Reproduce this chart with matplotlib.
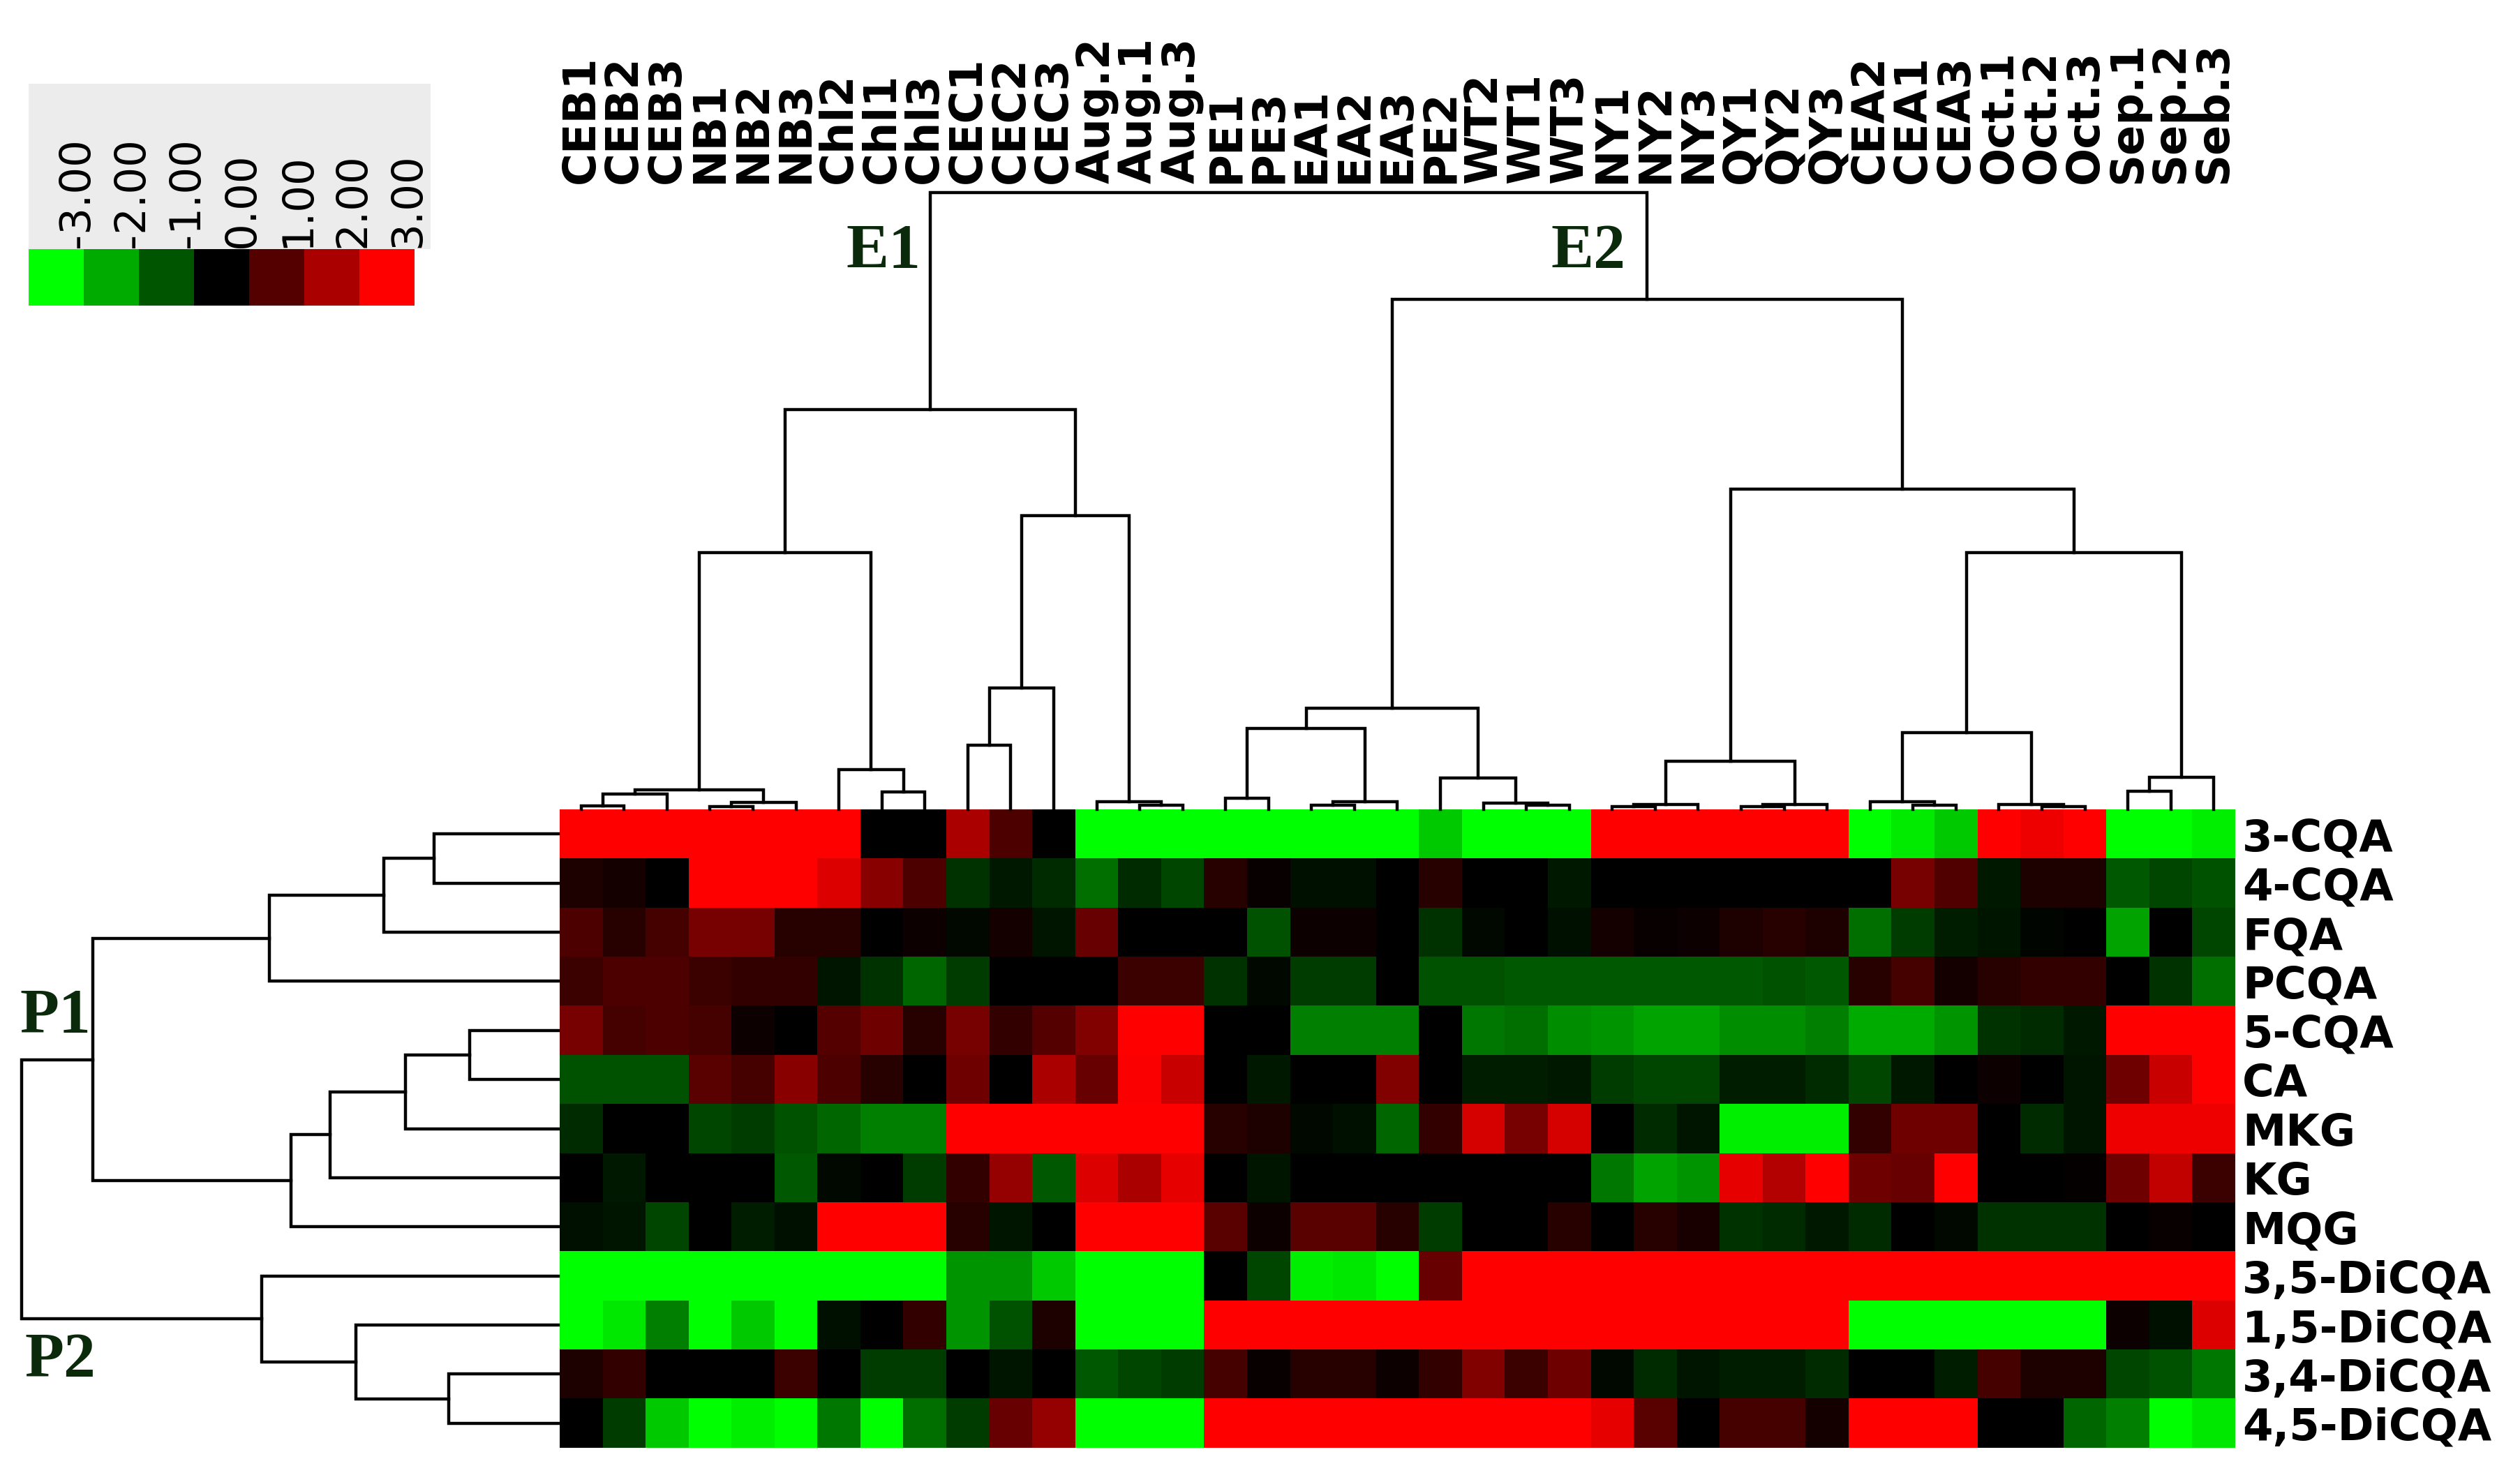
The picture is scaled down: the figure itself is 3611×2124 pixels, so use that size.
import numpy as np
import matplotlib as mpl
mpl.use("Agg")
import matplotlib.pyplot as plt
from matplotlib.colors import LinearSegmentedColormap
from matplotlib.patches import Rectangle

##########################################
# figure is built in pixel units of the original picture
W, H = 3612, 2124
DPI = 100
mpl.rcParams.update({'font.family': 'DejaVu Sans'})
##########################################

samples = ['CEB1', 'CEB2', 'CEB3', 'NB1', 'NB2', 'NB3', 'Chl2', 'Chl1', 'Chl3',
           'CEC1', 'CEC2', 'CEC3', 'Aug.2', 'Aug.1', 'Aug.3', 'PE1', 'PE3', 'EA1',
           'EA2', 'EA3', 'PE2', 'WT2', 'WT1', 'WT3', 'NY1', 'NY2', 'NY3', 'QY1',
           'QY2', 'QY3', 'CEA2', 'CEA1', 'CEA3', 'Oct.1', 'Oct.2', 'Oct.3',
           'Sep.1', 'Sep.2', 'Seb.3']

compounds = ['3-CQA', '4-CQA', 'FQA', 'PCQA', '5-CQA', 'CA', 'MKG', 'KG', 'MQG',
             '3,5-DiCQA', '1,5-DiCQA', '3,4-DiCQA', '4,5-DiCQA']

# standardised values (-3 .. 3), one line per compound, columns in sample order
expr = [
    [3, 3, 3, 3, 3, 3, 3, 0, 0, 2.0, 0.9, 0, -3, -3, -3, -3, -3, -3, -3, -3, -2.35, -3, -3, -3, 3, 3, 3, 3, 3, 3, -3, -2.75, -2.35, 3, 2.8, 3, -3, -3, -2.8],
    [0.35, 0.25, 0, 3, 3, 3, 2.6, 1.6, 0.9, -0.6, -0.3, -0.5, -1.3, -0.5, -0.8, 0.45, 0.1, -0.2, -0.2, 0, 0.45, 0, 0, -0.3, 0, 0, 0, 0, 0, 0, 0, 1.4, 0.95, -0.3, 0.35, 0.35, -1.05, -0.8, -0.95],
    [0.9, 0.45, 0.8, 1.4, 1.4, 0.45, 0.45, 0, 0.15, -0.1, 0.25, -0.25, 1.2, 0, 0, 0, -0.95, 0.15, 0.15, 0, -0.6, -0.1, 0, -0.2, 0.25, 0.1, 0.15, 0.35, 0.45, 0.35, -1.3, -0.7, -0.35, -0.25, -0.05, 0, -1.9, 0, -0.8],
    [0.7, 0.9, 0.9, 0.7, 0.6, 0.6, -0.25, -0.6, -1.2, -0.7, 0, 0, 0, 0.7, 0.7, -0.6, -0.1, -0.7, -0.7, 0, -0.95, -0.95, -1.05, -1.05, -1.05, -1.05, -1.05, -1.05, -0.95, -1.05, 0.45, 0.8, 0.25, 0.45, 0.6, 0.6, 0, -0.6, -1.3],
    [1.4, 0.8, 0.9, 0.8, 0.15, 0, 1.0, 1.3, 0.45, 1.4, 0.6, 1.0, 1.5, 3, 3, 0, 0, -1.5, -1.5, -1.5, 0, -1.4, -1.3, -1.65, -1.75, -1.9, -1.9, -1.65, -1.65, -1.5, -2.0, -2.0, -1.75, -0.6, -0.5, -0.3, 3, 3, 3],
    [-0.95, -0.95, -0.95, 1.05, 0.8, 1.6, 0.9, 0.45, 0, 1.3, 0, 2.0, 1.2, 2.95, 2.35, 0, -0.3, 0, 0, 1.5, 0, -0.35, -0.35, -0.3, -0.7, -0.8, -0.8, -0.35, -0.35, -0.5, -0.8, -0.3, 0, 0.15, 0, -0.25, 1.3, 2.35, 3],
    [-0.5, 0, 0, -0.8, -0.7, -0.95, -1.2, -1.5, -1.5, 3, 3, 3, 3, 3, 3, 0.45, 0.35, -0.1, -0.2, -1.2, 0.6, 2.5, 1.4, 2.5, 0, -0.5, -0.25, -2.8, -2.8, -2.8, 0.6, 1.3, 1.3, 0, -0.5, -0.25, 2.8, 2.8, 2.8],
    [0, -0.3, 0, 0, 0, -1.05, -0.1, 0, -0.7, 0.6, 1.75, -1.05, 2.6, 2.0, 2.7, 0, -0.25, 0, 0, 0, 0, 0, 0, 0, -1.4, -1.9, -1.75, 2.7, 2.1, 3, 1.3, 1.2, 3, 0, 0, 0.05, 1.3, 2.25, 0.7],
    [-0.2, -0.25, -0.8, 0, -0.35, -0.2, 3, 3, 3, 0.45, -0.25, 0, 3, 3, 3, 1.05, 0.15, 1.05, 1.05, 0.45, -0.7, 0, 0, 0.45, 0, 0.45, 0.3, -0.6, -0.5, -0.3, -0.5, 0, -0.1, -0.6, -0.6, -0.6, 0, 0.1, 0],
    [-3, -3, -3, -3, -3, -3, -3, -3, -3, -1.75, -1.75, -2.35, -3, -3, -3, 0, -0.8, -2.8, -2.7, -3, 1.2, 3, 3, 3, 3, 3, 3, 3, 3, 3, 3, 3, 3, 3, 3, 3, 3, 3, 3],
    [-3, -2.7, -1.5, -3, -2.35, -3, -0.2, 0, 0.6, -1.75, -0.95, 0.35, -3, -3, -3, 3, 3, 3, 3, 3, 3, 3, 3, 3, 3, 3, 3, 3, 3, 3, -3, -3, -3, -3, -3, -3, 0.15, -0.2, 2.6],
    [0.35, 0.6, 0, 0, 0, 0.7, 0, -0.7, -0.7, 0, -0.25, 0, -1.05, -0.8, -0.7, 0.8, 0.1, 0.45, 0.45, 0.15, 0.6, 1.5, 0.7, 1.3, -0.1, -0.5, -0.25, -0.35, -0.35, -0.5, 0, 0, -0.35, 0.8, 0.35, 0.35, -0.8, -0.95, -1.4],
    [0, -0.7, -2.35, -3, -2.8, -3, -1.4, -3, -1.3, -0.7, 1.2, 1.75, -3, -3, -3, 3, 3, 3, 3, 3, 3, 3, 3, 3, 2.7, 1.05, 0, 0.8, 0.8, 0.25, 3, 3, 3, 0, 0, -1.2, -1.5, -3, -2.7],
]

# linkage of the samples: (child a, child b, height); ids >= 39 are earlier merges
col_merges = [
    (0, 1, 7), (39, 2, 30), (3, 4, 6), (41, 5, 14), (40, 42, 37),
    (7, 8, 33), (6, 44, 77), (43, 45, 493), (9, 10, 123), (47, 11, 233),
    (13, 14, 8), (12, 49, 15), (48, 50, 565), (46, 51, 768),
    (15, 16, 22), (17, 18, 8), (54, 19, 15), (53, 55, 155),
    (22, 23, 8), (21, 57, 12), (20, 58, 60), (56, 59, 195),
    (24, 25, 6), (61, 26, 10), (27, 28, 6), (63, 29, 10), (62, 64, 93),
    (31, 32, 8), (30, 66, 15), (34, 35, 6), (33, 68, 9), (67, 69, 148),
    (36, 37, 35), (71, 38, 62), (70, 72, 493), (65, 73, 615),
    (60, 74, 980), (52, 75, 1185),
]

# linkage of the compounds, ids >= 13 are earlier merges
row_merges = [
    (0, 1, 340), (13, 2, 478), (14, 3, 792),
    (4, 5, 242), (16, 6, 418), (17, 7, 625), (18, 8, 733),
    (15, 19, 1275),
    (11, 12, 300), (10, 21, 555), (9, 22, 812),
    (20, 23, 1470),
]

legend_values = [-3, -2, -1, 0, 1, 2, 3]
legend_labels = ['-3.00', '-2.00', '-1.00', '0.00', '1.00', '2.00', '3.00']

group_labels = ['E1', 'E2', 'P1', 'P2']
#############################

cmap = LinearSegmentedColormap.from_list('gkr', [(0, 1, 0), (0, 0, 0), (1, 0, 0)])
label_green = '#0b2a0b'


def rect(x0, y0, x1, y1):
    # pixel box (top-left origin) -> figure fraction
    return [x0 / W, 1 - y1 / H, (x1 - x0) / W, (y1 - y0) / H]


def draw_tree(ax, merges, n, top=True):
    pos = {i: (float(i), 0.0) for i in range(n)}
    for k, (a, b, h) in enumerate(merges):
        xa, ha = pos[a]
        xb, hb = pos[b]
        xs = [xa, xa, xb, xb]
        hs = [ha, h, h, hb]
        if top:
            ax.plot(xs, hs, color='black', lw=3.2, clip_on=False,
                    solid_joinstyle='miter')
        else:
            ax.plot(hs, xs, color='black', lw=3.2, clip_on=False,
                    solid_joinstyle='miter')
        pos[n + k] = ((xa + xb) / 2.0, h)


fig = plt.figure(figsize=(W / DPI, H / DPI), dpi=DPI)
fig.patch.set_facecolor('white')

data = np.array(expr)
ncol = len(samples)
nrow = len(compounds)

# heatmap
ax = fig.add_axes(rect(802, 1160, 3203, 2075))
ax.imshow(data, cmap=cmap, vmin=-3, vmax=3, aspect='auto', interpolation='nearest')
ax.set_xlim(-0.5, ncol - 0.5)
ax.set_ylim(nrow - 0.5, -0.5)
ax.axis('off')
for i, name in enumerate(compounds):
    ax.text(ncol - 0.5 + 0.16, i + 0.1, name, ha='left', va='center',
            fontsize=45, fontweight='bold', clip_on=False)

# sample dendrogram + labels
axt = fig.add_axes(rect(802, 276, 3203, 1160))
draw_tree(axt, col_merges, ncol, top=True)
axt.set_xlim(-0.5, ncol - 0.5)
axt.set_ylim(0, 1185)
axt.axis('off')
for i, name in enumerate(samples):
    axt.text(i, 1185 + 18, name, rotation=90, ha='center', va='bottom',
             fontsize=46, fontweight='bold', clip_on=False)

# compound dendrogram
axl = fig.add_axes(rect(31, 1160, 800, 2075))
draw_tree(axl, row_merges, nrow, top=False)
axl.set_xlim(1470, 0)
axl.set_ylim(nrow - 0.5, -0.5)
axl.axis('off')

# colour key
fig.add_artist(Rectangle((41 / W, 1 - 357 / H), (617 - 41) / W, (357 - 120) / H,
                         transform=fig.transFigure, facecolor='#ececec',
                         edgecolor='none', zorder=0))
axc = fig.add_axes(rect(41, 357, 594, 438))
axc.imshow([legend_values], cmap=cmap, vmin=-3, vmax=3, aspect='auto',
           interpolation='nearest')
axc.axis('off')
for i, lab in enumerate(legend_labels):
    axc.text(i + 0.38, -0.53, lab, rotation=90, ha='center', va='bottom',
             fontsize=44, clip_on=False)

# cluster names
fig.text(1319 / W, 1 - 362 / H, group_labels[0], ha='right', va='center',
         fontsize=66, fontweight='bold', family='Liberation Serif', color=label_green)
fig.text(2329 / W, 1 - 362 / H, group_labels[1], ha='right', va='center',
         fontsize=66, fontweight='bold', family='Liberation Serif', color=label_green)
fig.text(28 / W, 1 - 1458 / H, group_labels[2], ha='left', va='center',
         fontsize=66, fontweight='bold', family='Liberation Serif', color=label_green)
fig.text(35 / W, 1 - 1951 / H, group_labels[3], ha='left', va='center',
         fontsize=66, fontweight='bold', family='Liberation Serif', color=label_green)

fig.savefig('out.png', dpi=DPI)
